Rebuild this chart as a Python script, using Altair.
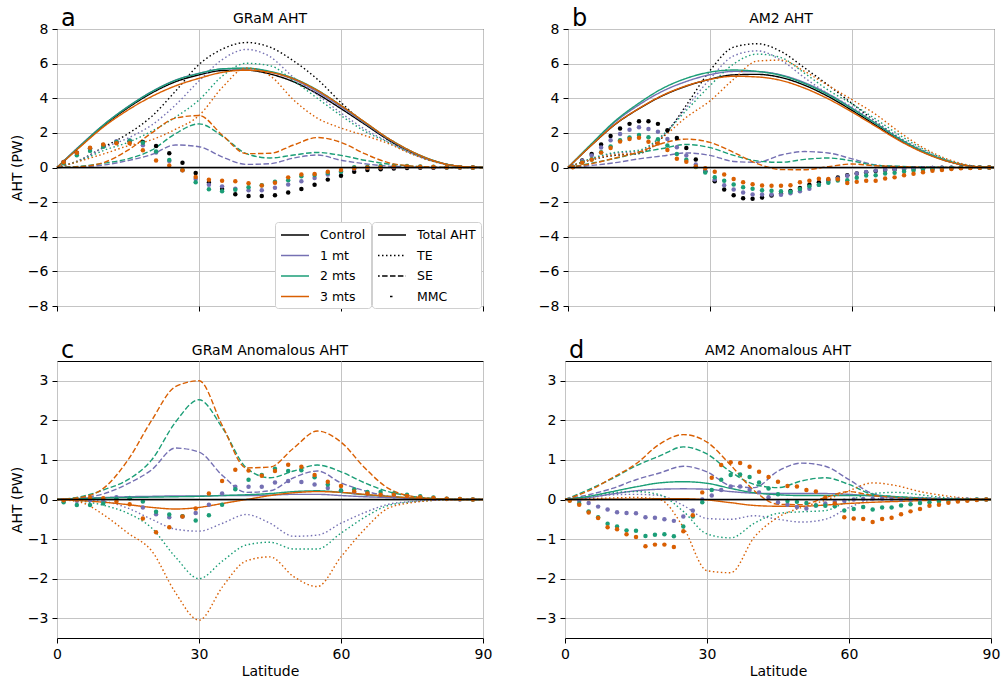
import altair as alt
import pandas as pd

FONT = "DejaVu Sans"

# ---------------- latitude grids ----------------
LAT5 = [0, 5, 10, 15, 20, 25, 30, 35, 40, 45, 50, 55, 60, 65, 70, 75, 80, 85, 90]
LAT_GRAM = [1.40, 4.19, 6.98, 9.77, 12.56, 15.35, 18.14, 20.93, 23.72, 26.51, 29.30,
            32.09, 34.88, 37.67, 40.47, 43.26, 46.05, 48.84, 51.63, 54.42, 57.21,
            60.00, 62.79, 65.58, 68.37, 71.16, 73.95, 76.74, 79.53, 82.33, 85.12, 87.86]
LAT_AM2 = [1, 3, 5, 7, 9, 11, 13, 15, 17, 19, 21, 23, 25, 27, 29, 31, 33, 35, 37, 39, 41, 43, 45,
           47, 49, 51, 53, 55, 57, 59, 61, 63, 65, 67, 69, 71, 73, 75, 77, 79, 81, 83, 85, 87, 89]

EXPS = ["Control", "1 mt", "2 mts", "3 mts"]
COLORS = ["#000000", "#7570b3", "#1b9e77", "#d95f02"]
COMPS = ["Total AHT", "TE", "SE", "MMC"]
DASHES = [[1, 0], [1.5, 2.5], [5.5, 2.4], [2.5, 1000]]

# ---------------- GRaM (panel a) ----------------
A_TOT_CTRL = [0, 1.25, 2.45, 3.45, 4.3, 4.95, 5.35, 5.6, 5.62, 5.4, 4.95, 4.25, 3.4, 2.5, 1.6, 0.88, 0.35, 0.07, 0]
A_TOT_1 = [0, 1.3, 2.5, 3.52, 4.38, 5.04, 5.44, 5.69, 5.72, 5.52, 5.08, 4.37, 3.5, 2.57, 1.65, 0.9, 0.36, 0.07, 0]
A_TOT_2 = [0, 1.28, 2.5, 3.51, 4.37, 5.03, 5.43, 5.7, 5.74, 5.55, 5.15, 4.47, 3.58, 2.62, 1.68, 0.92, 0.37, 0.07, 0]
A_TOT_3 = [0, 1.22, 2.38, 3.32, 4.1, 4.71, 5.15, 5.5, 5.62, 5.5, 5.12, 4.45, 3.58, 2.63, 1.68, 0.92, 0.36, 0.07, 0]

A_TE_CTRL = [0, 0.45, 1.2, 1.95, 2.95, 4.4, 5.95, 6.85, 7.22, 6.95, 6.15, 5.1, 3.75, 2.55, 1.6, 0.85, 0.33, 0.07, 0]
A_TE_1 = [0, 0.44, 1.15, 1.7, 2.45, 3.6, 5.0, 6.25, 6.82, 6.4, 5.2, 4.2, 3.15, 2.22, 1.48, 0.8, 0.32, 0.07, 0]
A_TE_2 = [0, 0.41, 1.0, 1.45, 2.1, 2.9, 3.9, 5.3, 6.02, 5.88, 5.0, 4.0, 3.0, 2.1, 1.45, 0.79, 0.31, 0.07, 0]
A_TE_3 = [0, 0.38, 0.8, 1.25, 1.6, 2.2, 3.0, 4.65, 5.75, 5.3, 3.9, 2.85, 2.28, 1.85, 1.38, 0.77, 0.31, 0.07, 0]

# stationary eddies (control is zero, so identical in panels a and c)
G_SE_1 = [0, 0.04, 0.15, 0.4, 0.75, 1.3, 1.2, 0.6, 0.18, 0.22, 0.55, 0.72, 0.42, 0.22, 0.08, 0.03, 0, 0, 0]
G_SE_2 = [0, 0.07, 0.25, 0.5, 1.0, 1.95, 2.52, 1.8, 0.8, 0.55, 0.72, 0.87, 0.7, 0.42, 0.2, 0.08, 0.02, 0, 0]
G_SE_3 = [0, 0.05, 0.3, 1.0, 2.0, 2.85, 3.0, 1.85, 0.8, 0.82, 1.3, 1.73, 1.45, 0.8, 0.28, 0.08, 0.02, 0, 0]

A_MMC_CTRL = [0.32, 0.85, 1.10, 1.30, 1.45, 1.52, 1.48, 1.24, 0.82, 0.27, -0.32, -0.86, -1.24, -1.54, -1.64, -1.64,
              -1.60, -1.45, -1.24, -0.99, -0.70, -0.48, -0.25, -0.15, -0.10, -0.06, -0.03, -0.02, -0.01, 0, 0, 0]
A_MMC_1 = [0.30, 0.82, 1.08, 1.25, 1.51, 1.56, 1.28, 0.87, 0.37, -0.16, -0.66, -0.99, -1.09, -1.22, -1.32, -1.32,
           -1.17, -0.98, -0.80, -0.61, -0.41, -0.25, -0.07, -0.01, 0.00, 0.02, 0.03, 0.02, 0.01, 0.01, 0, 0]
A_MMC_2 = [0.25, 0.71, 0.96, 1.20, 1.47, 1.55, 1.43, 0.93, 0.44, -0.15, -0.85, -1.26, -1.37, -1.28, -1.14, -1.02,
           -0.82, -0.73, -0.50, -0.43, -0.32, -0.25, 0.01, 0.04, 0.09, 0.09, 0.09, 0.06, 0.04, 0.02, 0.01, 0]
A_MMC_3 = [0.30, 0.85, 1.14, 1.33, 1.40, 1.40, 1.00, 0.41, 0.12, -0.16, -0.55, -0.71, -0.77, -0.79, -0.91, -1.04,
           -0.88, -0.57, -0.41, -0.37, -0.25, -0.14, -0.05, 0.00, 0.02, 0.06, 0.06, 0.04, 0.03, 0.02, 0.01, 0]

# ---------------- GRaM anomalies (panel c) ----------------
C_TOT_1 = [0, 0.03, 0.05, 0.07, 0.08, 0.09, 0.09, 0.1, 0.1, 0.11, 0.13, 0.13, 0.1, 0.07, 0.05, 0.03, 0.01, 0, 0]
C_TOT_2 = [0, 0.02, 0.04, 0.05, 0.06, 0.07, 0.08, 0.1, 0.12, 0.15, 0.2, 0.22, 0.18, 0.12, 0.08, 0.04, 0.02, 0, 0]
C_TOT_3 = [0, -0.03, -0.07, -0.13, -0.2, -0.24, -0.2, -0.1, 0.0, 0.1, 0.17, 0.2, 0.18, 0.13, 0.08, 0.04, 0.01, 0, 0]

C_TE_1 = [0, -0.01, -0.05, -0.22, -0.5, -0.75, -0.8, -0.6, -0.38, -0.6, -0.93, -0.9, -0.6, -0.33, -0.12, -0.05, -0.01, 0, 0]
C_TE_2 = [0, -0.04, -0.15, -0.35, -0.72, -1.45, -2.0, -1.55, -1.15, -1.08, -1.25, -1.25, -0.85, -0.45, -0.15, -0.06, -0.02, 0, 0]
C_TE_3 = [0, -0.07, -0.4, -0.85, -1.3, -2.35, -3.05, -2.2, -1.55, -1.45, -1.95, -2.2, -1.45, -0.75, -0.22, -0.08, -0.02, 0, 0]

C_MMC_1 = [-0.02, -0.03, -0.02, -0.05, 0.06, 0.04, -0.20, -0.37, -0.45, -0.43, -0.34, -0.13, 0.15, 0.32, 0.32, 0.32,
           0.43, 0.47, 0.44, 0.38, 0.29, 0.23, 0.18, 0.14, 0.10, 0.08, 0.06, 0.04, 0.02, 0.01, 0, 0]
C_MMC_2 = [-0.07, -0.14, -0.14, -0.10, 0.02, 0.03, -0.05, -0.31, -0.38, -0.42, -0.53, -0.40, -0.13, 0.26, 0.50, 0.62,
           0.78, 0.72, 0.74, 0.56, 0.38, 0.23, 0.26, 0.19, 0.19, 0.15, 0.12, 0.08, 0.05, 0.02, 0.01, 0]
C_MMC_3 = [-0.02, 0.0, 0.04, 0.03, -0.05, -0.12, -0.48, -0.83, -0.70, -0.43, -0.23, 0.15, 0.47, 0.75, 0.73, 0.60,
           0.72, 0.88, 0.83, 0.62, 0.45, 0.34, 0.20, 0.15, 0.12, 0.12, 0.09, 0.06, 0.04, 0.02, 0.01, 0]

# ---------------- AM2 (panel b) ----------------
B_TOT_CTRL = [0, 1.3, 2.5, 3.4, 4.15, 4.7, 5.1, 5.35, 5.38, 5.2, 4.75, 4.1, 3.3, 2.45, 1.6, 0.9, 0.38, 0.08, 0]
B_TOT_1 = [0, 1.35, 2.64, 3.62, 4.41, 4.97, 5.36, 5.55, 5.54, 5.35, 4.9, 4.25, 3.43, 2.54, 1.65, 0.93, 0.39, 0.08, 0]
B_TOT_2 = [0, 1.38, 2.7, 3.72, 4.57, 5.15, 5.51, 5.63, 5.55, 5.32, 4.85, 4.2, 3.4, 2.55, 1.67, 0.94, 0.4, 0.08, 0]
B_TOT_3 = [0, 1.3, 2.51, 3.41, 4.17, 4.72, 5.09, 5.27, 5.23, 5.03, 4.58, 3.96, 3.2, 2.38, 1.55, 0.87, 0.37, 0.08, 0]

B_TE_CTRL = [0, 0.45, 0.7, 0.8, 1.75, 3.6, 5.6, 6.95, 7.15, 6.7, 5.75, 4.75, 3.7, 2.65, 1.7, 0.95, 0.4, 0.09, 0]
B_TE_1 = [0, 0.5, 0.82, 0.93, 1.85, 3.45, 5.12, 6.45, 6.74, 6.2, 5.18, 4.25, 3.5, 2.65, 1.75, 1.0, 0.42, 0.09, 0]
B_TE_2 = [0, 0.53, 0.87, 1.0, 1.87, 3.3, 4.73, 5.98, 6.55, 6.35, 5.44, 4.47, 3.67, 2.8, 1.88, 1.07, 0.45, 0.1, 0]
B_TE_3 = [0, 0.47, 0.74, 0.85, 1.75, 2.9, 3.85, 5.1, 6.15, 6.2, 5.55, 4.73, 3.92, 3.07, 2.05, 1.15, 0.5, 0.12, 0]

M_SE_1 = [0, 0.12, 0.28, 0.5, 0.67, 0.84, 0.7, 0.35, 0.3, 0.72, 0.92, 0.84, 0.5, 0.15, 0.05, 0.02, 0, 0, 0]
M_SE_2 = [0, 0.25, 0.53, 0.85, 1.1, 1.33, 1.15, 0.7, 0.38, 0.3, 0.47, 0.55, 0.38, 0.13, 0.07, 0.03, 0.01, 0, 0]
M_SE_3 = [0, 0.22, 0.55, 0.9, 1.4, 1.64, 1.45, 0.87, 0.22, -0.12, -0.13, 0.05, 0.2, 0.1, 0.05, 0.02, 0.01, 0, 0]

B_MMC_CTRL = [0.05, 0.40, 0.78, 1.33, 1.82, 2.25, 2.52, 2.67, 2.67, 2.52, 2.15, 1.71, 1.13, 0.46, -0.22, -0.80,
              -1.27, -1.60, -1.77, -1.80, -1.74, -1.62, -1.50, -1.36, -1.18, -1.00, -0.85, -0.72, -0.58, -0.45,
              -0.35, -0.27, -0.20, -0.15, -0.11, -0.08, -0.06, -0.04, -0.03, -0.02, -0.01, 0, 0, 0, 0]
B_MMC_1 = [0.05, 0.37, 0.69, 1.15, 1.57, 1.93, 2.18, 2.32, 2.22, 2.06, 1.65, 1.17, 0.70, 0.18, -0.22, -0.70,
           -1.03, -1.27, -1.44, -1.56, -1.56, -1.56, -1.57, -1.49, -1.37, -1.23, -1.00, -0.82, -0.64, -0.48,
           -0.35, -0.26, -0.18, -0.13, -0.10, -0.08, -0.06, -0.04, -0.03, -0.02, -0.01, 0, 0, 0, 0]
B_MMC_2 = [0.03, 0.30, 0.48, 0.88, 1.21, 1.57, 1.74, 1.88, 1.75, 1.63, 1.27, 0.78, 0.45, 0.03, -0.29, -0.56,
           -0.77, -0.98, -1.14, -1.23, -1.31, -1.34, -1.37, -1.40, -1.24, -1.09, -1.00, -0.88, -0.75, -0.73,
           -0.59, -0.46, -0.45, -0.35, -0.31, -0.23, -0.18, -0.13, -0.10, -0.07, -0.04, -0.02, -0.01, 0, 0]
B_MMC_3 = [0.02, 0.27, 0.45, 0.86, 1.12, 1.50, 1.64, 1.72, 1.49, 1.38, 1.01, 0.51, 0.33, 0.06, -0.04, -0.25,
           -0.40, -0.66, -0.85, -0.97, -1.04, -1.05, -1.05, -1.02, -0.85, -0.76, -0.65, -0.67, -0.68, -0.90,
           -0.83, -0.76, -0.77, -0.64, -0.57, -0.45, -0.36, -0.28, -0.19, -0.15, -0.09, -0.05, -0.03, -0.01, 0]

# ---------------- AM2 anomalies (panel d) ----------------
D_TOT_1 = [0, 0.05, 0.14, 0.22, 0.26, 0.27, 0.26, 0.2, 0.16, 0.15, 0.15, 0.15, 0.13, 0.09, 0.05, 0.03, 0.01, 0, 0]
D_TOT_2 = [0, 0.08, 0.2, 0.32, 0.42, 0.45, 0.41, 0.28, 0.17, 0.12, 0.1, 0.1, 0.1, 0.1, 0.07, 0.04, 0.02, 0, 0]
D_TOT_3 = [0, 0.0, 0.01, 0.01, 0.02, 0.02, -0.01, -0.08, -0.15, -0.17, -0.17, -0.14, -0.1, -0.07, -0.05, -0.03, -0.01, 0, 0]

D_TE_1 = [0, 0.05, 0.12, 0.13, 0.1, -0.15, -0.48, -0.5, -0.41, -0.5, -0.57, -0.5, -0.2, 0.0, 0.05, 0.05, 0.02, 0, 0]
D_TE_2 = [0, 0.08, 0.17, 0.2, 0.12, -0.3, -0.87, -0.97, -0.6, -0.35, -0.31, -0.28, -0.03, 0.15, 0.18, 0.12, 0.05, 0.01, 0]
D_TE_3 = [0, 0.02, 0.04, 0.05, 0.0, -0.7, -1.8, -1.85, -0.95, -0.45, -0.2, -0.02, 0.22, 0.42, 0.35, 0.2, 0.1, 0.03, 0]

D_MMC_1 = [0, -0.03, -0.09, -0.18, -0.25, -0.32, -0.34, -0.35, -0.45, -0.46, -0.50, -0.54, -0.43, -0.28, 0.0,
           0.10, 0.24, 0.33, 0.33, 0.24, 0.18, 0.06, -0.07, -0.13, -0.19, -0.23, -0.15, -0.10, -0.06, -0.03,
           0.0, 0.01, 0.02, 0.02, 0.01, 0, 0, 0, 0, 0, 0, 0, 0, 0, 0]
D_MMC_2 = [-0.02, -0.10, -0.30, -0.45, -0.61, -0.68, -0.78, -0.79, -0.92, -0.89, -0.88, -0.93, -0.68, -0.43, -0.07,
           0.24, 0.50, 0.62, 0.63, 0.57, 0.43, 0.28, 0.13, -0.04, -0.06, -0.09, -0.15, -0.16, -0.17, -0.28,
           -0.24, -0.19, -0.25, -0.20, -0.20, -0.15, -0.12, -0.09, -0.07, -0.05, -0.03, -0.02, -0.01, 0, 0]
D_MMC_3 = [-0.03, -0.13, -0.33, -0.47, -0.70, -0.75, -0.88, -0.95, -1.18, -1.14, -1.14, -1.20, -0.80, -0.40, 0.18,
           0.55, 0.87, 0.94, 0.92, 0.83, 0.70, 0.57, 0.45, 0.34, 0.33, 0.24, 0.20, 0.05, -0.10, -0.45,
           -0.48, -0.49, -0.57, -0.49, -0.46, -0.37, -0.30, -0.24, -0.16, -0.13, -0.08, -0.05, -0.03, -0.01, 0]

W, H = 426, 277


def lines_frame(series):
    rows = []
    for exp, comp, vals in series:
        for la, v in zip(LAT5, vals):
            rows.append({"lat": la, "val": v, "exp": exp, "comp": comp, "key": exp + "|" + comp})
    return pd.DataFrame(rows)


def points_frame(lats, series):
    rows = []
    for exp, vals in series:
        for la, v in zip(lats, vals):
            rows.append({"lat": la, "val": v, "exp": exp})
    return pd.DataFrame(rows)


LEG_COMMON = dict(orient="none", title=None, labelFont=FONT, labelFontSize=12.5, labelColor="black",
                  symbolType="M-2,0H2", symbolSize=196, symbolStrokeWidth=1.5, symbolOffset=7,
                  labelOffset=17, rowPadding=5.5, padding=5, fillColor="white", strokeColor="#d0d0d0",
                  cornerRadius=3, legendY=193)


def panel(line_series, mmc_lats, mmc_series, title, letter, ydom, yticks, xlabels, ytitle, legends):
    ldf = lines_frame(line_series)
    pdf = points_frame(mmc_lats, mmc_series)
    xscale = alt.Scale(domain=[0, 90], nice=False, zero=False)
    xaxis = alt.Axis(values=[0, 30, 60, 90], labels=xlabels, labelOverlap=False, labelFlush=False,
                     title="Latitude" if xlabels else None)
    yscale = alt.Scale(domain=ydom, nice=False, zero=False)
    yaxis = alt.Axis(values=yticks, labelOverlap=False, labelFlush=False, tickCount=len(yticks),
                     title="AHT (PW)" if ytitle else None)
    xenc = alt.X("lat:Q", scale=xscale, axis=xaxis)
    yenc = alt.Y("val:Q", scale=yscale, axis=yaxis)
    if legends:
        cleg = alt.Legend(legendX=218, **LEG_COMMON)
        dleg = alt.Legend(legendX=315, symbolStrokeColor="black", symbolDashOffset=-12, **LEG_COMMON)
    else:
        cleg = None
        dleg = None
    cscale = alt.Scale(domain=EXPS, range=COLORS)
    lines = alt.Chart(ldf).mark_line(strokeWidth=1.4, interpolate="monotone").encode(
        x=xenc, y=yenc,
        color=alt.Color("exp:N", scale=cscale, legend=cleg),
        strokeDash=alt.StrokeDash("comp:N", scale=alt.Scale(domain=COMPS, range=DASHES), legend=dleg),
        detail="key:N",
    )
    pts = alt.Chart(pdf).mark_circle(size=20, opacity=1).encode(
        x=xenc, y=yenc,
        color=alt.Color("exp:N", scale=cscale, legend=cleg),
    )
    zero = alt.Chart(pd.DataFrame({"val": [0]})).mark_rule(color="black", strokeWidth=1.5).encode(
        y=yenc)
    lab = alt.Chart(pd.DataFrame({"t": [letter], "ttl": [title]}))
    let = lab.mark_text(align="left", baseline="alphabetic", fontSize=24, font=FONT,
                        color="black").encode(text="t:N", x=alt.value(4), y=alt.value(-3))
    ttl = lab.mark_text(align="center", baseline="alphabetic", fontSize=14, font=FONT,
                        color="black").encode(text="ttl:N", x=alt.value(W / 2), y=alt.value(-6))
    return alt.layer(lines, pts, zero, let, ttl).properties(width=W, height=H)


pa = panel(
    [("Control", "Total AHT", A_TOT_CTRL), ("Control", "TE", A_TE_CTRL),
     ("1 mt", "Total AHT", A_TOT_1), ("1 mt", "TE", A_TE_1), ("1 mt", "SE", G_SE_1),
     ("2 mts", "Total AHT", A_TOT_2), ("2 mts", "TE", A_TE_2), ("2 mts", "SE", G_SE_2),
     ("3 mts", "Total AHT", A_TOT_3), ("3 mts", "TE", A_TE_3), ("3 mts", "SE", G_SE_3)],
    LAT_GRAM,
    [("Control", A_MMC_CTRL), ("1 mt", A_MMC_1), ("2 mts", A_MMC_2), ("3 mts", A_MMC_3)],
    "GRaM AHT", "a", [-8, 8], [-8, -6, -4, -2, 0, 2, 4, 6, 8], False, True, True)

pb = panel(
    [("Control", "Total AHT", B_TOT_CTRL), ("Control", "TE", B_TE_CTRL),
     ("1 mt", "Total AHT", B_TOT_1), ("1 mt", "TE", B_TE_1), ("1 mt", "SE", M_SE_1),
     ("2 mts", "Total AHT", B_TOT_2), ("2 mts", "TE", B_TE_2), ("2 mts", "SE", M_SE_2),
     ("3 mts", "Total AHT", B_TOT_3), ("3 mts", "TE", B_TE_3), ("3 mts", "SE", M_SE_3)],
    LAT_AM2,
    [("Control", B_MMC_CTRL), ("1 mt", B_MMC_1), ("2 mts", B_MMC_2), ("3 mts", B_MMC_3)],
    "AM2 AHT", "b", [-8, 8], [-8, -6, -4, -2, 0, 2, 4, 6, 8], False, False, False)

pc = panel(
    [("1 mt", "Total AHT", C_TOT_1), ("1 mt", "TE", C_TE_1), ("1 mt", "SE", G_SE_1),
     ("2 mts", "Total AHT", C_TOT_2), ("2 mts", "TE", C_TE_2), ("2 mts", "SE", G_SE_2),
     ("3 mts", "Total AHT", C_TOT_3), ("3 mts", "TE", C_TE_3), ("3 mts", "SE", G_SE_3)],
    LAT_GRAM,
    [("1 mt", C_MMC_1), ("2 mts", C_MMC_2), ("3 mts", C_MMC_3)],
    "GRaM Anomalous AHT", "c", [-3.5, 3.5], [-3, -2, -1, 0, 1, 2, 3], True, True, False)

pd_ = panel(
    [("1 mt", "Total AHT", D_TOT_1), ("1 mt", "TE", D_TE_1), ("1 mt", "SE", M_SE_1),
     ("2 mts", "Total AHT", D_TOT_2), ("2 mts", "TE", D_TE_2), ("2 mts", "SE", M_SE_2),
     ("3 mts", "Total AHT", D_TOT_3), ("3 mts", "TE", D_TE_3), ("3 mts", "SE", M_SE_3)],
    LAT_AM2,
    [("1 mt", D_MMC_1), ("2 mts", D_MMC_2), ("3 mts", D_MMC_3)],
    "AM2 Anomalous AHT", "d", [-3.5, 3.5], [-3, -2, -1, 0, 1, 2, 3], True, False, False)

RES = dict(color="independent", strokeDash="independent")
top = alt.hconcat(pa, pb, spacing=50).resolve_scale(**RES)
bottom = alt.hconcat(pc, pd_, spacing=41).resolve_scale(**RES)

chart = alt.vconcat(top, bottom, spacing=24).resolve_scale(**RES).properties(
    padding={"left": 9, "top": 6, "right": 0, "bottom": 0}
).configure_view(
    stroke="black", strokeWidth=1
).configure_axis(
    domain=False, grid=True, gridColor="#c4c4c4", gridWidth=1,
    tickColor="black", tickSize=5, tickWidth=1, labelOverlap=False, labelFlush=False,
    labelFont=FONT, labelFontSize=14, labelColor="black", labelPadding=4,
    titleFont=FONT, titleFontSize=14, titleFontWeight="normal", titleColor="black", titlePadding=3,
)

chart.save("out.html", embed_options={"renderer": "svg", "actions": False})
